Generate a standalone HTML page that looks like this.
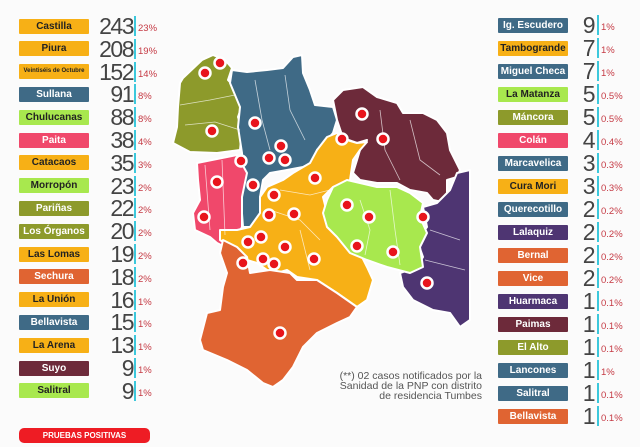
<!DOCTYPE html>
<html><head><meta charset="utf-8"><style>
body{margin:0;width:640px;height:447px;overflow:hidden;background:#fbfbfb;font-family:"Liberation Sans",sans-serif;position:relative}
.l{position:absolute;height:15px;line-height:15px;text-align:center;font-size:10px;color:#fff;border-radius:1px;font-weight:bold}
.n{position:absolute;width:60px;text-align:right;font-size:23px;line-height:24px;color:#444;letter-spacing:-1.5px}
.b{position:absolute;width:2px;height:20px;background:#3cc8dc}
.p{position:absolute;font-size:9.5px;color:#c53a44}
.O{background:#f7b016;color:#222}.B{background:#3f6a86}.G{background:#a8e84e;color:#222}.V{background:#8d9a2b}.K{background:#f0486b}.R{background:#e06432}.M{background:#6d2a3a}.P{background:#4e3572}
</style></head><body>
<svg width="640" height="447" style="position:absolute;left:0;top:0" >
<g stroke="#fff" stroke-width="2" stroke-linejoin="round">
<polygon fill="#8d9a2b" points="183,78 202,60 213,55 225,60 232,68 228,80 237,90 243,103 238,117 242,130 240,150 217,153 190,152 173,143 177,127 178,107 180,83"/>
<polygon fill="#3f6a86" points="232,70 247,72 267,70 283,68 293,57 302,55 303,73 310,90 315,105 333,107 337,120 333,133 327,140 317,150 317,160 303,167 287,170 270,173 263,180 260,197 260,217 253,227 243,227 240,187 243,173 242,153 238,127 240,107 230,83"/>
<polygon fill="#f0486b" points="197,163 237,155 247,173 242,197 242,227 235,240 225,247 217,243 210,237 195,230 193,213 200,200 198,180"/>
<polygon fill="#6d2a3a" points="333,100 343,90 363,87 377,97 397,103 403,113 423,113 437,120 447,133 450,150 460,170 457,177 447,180 447,203 433,200 427,193 410,190 397,183 377,183 360,180 353,173 357,160 360,150 367,140 357,143 343,138 337,120"/>
<polygon fill="#4e3572" points="457,173 470,170 470,320 460,327 450,313 433,310 413,300 403,287 400,273 417,267 423,257 417,240 427,227 423,207 437,203 450,190"/>
<polygon fill="#f7b016" points="327,137 337,133 347,140 357,143 367,142 360,150 353,160 350,180 333,187 323,197 327,213 343,233 357,247 367,267 373,280 367,300 357,307 337,293 317,280 297,277 287,270 277,273 267,270 257,263 247,260 237,257 230,247 220,240 220,230 237,230 250,227 260,213 260,197 267,187 283,180 293,173 310,163 317,150"/>
<polygon fill="#a8e84e" points="333,187 347,180 360,183 377,187 397,187 410,193 423,203 420,217 427,233 420,247 423,267 410,273 387,267 367,260 350,253 337,237 327,227 323,213 327,200"/>
<polygon fill="#e06432" points="223,240 237,247 247,257 250,273 270,270 290,273 297,280 317,280 337,293 357,307 350,317 337,323 317,333 303,347 293,367 283,380 273,387 263,383 247,370 227,360 203,350 200,340 207,313 220,310 223,287 227,273 220,253"/>
</g>
<g fill="none" stroke="#fff" stroke-width="0.8" opacity="0.7">
<path d="M180,105 L210,100 L235,95 M185,125 L215,122 L240,130 M255,80 L262,120 L270,150 M285,75 L290,110 L305,140 M205,165 L210,230 M222,160 L225,235 M280,190 L310,195 L330,190 M270,210 L300,220 L320,240 M300,230 L310,270 M360,200 L370,230 L365,255 M390,190 L395,230 L400,265 M380,110 L385,150 L400,180 M410,120 L420,160 L440,175 M430,230 L460,240 M425,260 L465,270"/>
</g>
<g fill="#e8141c" stroke="#fff" stroke-width="2.5">
<circle cx="220" cy="63" r="5.5"/><circle cx="205" cy="73" r="5.5"/><circle cx="212" cy="131" r="5.5"/><circle cx="255" cy="123" r="5.5"/><circle cx="281" cy="146" r="5.5"/><circle cx="269" cy="158" r="5.5"/><circle cx="285" cy="160" r="5.5"/><circle cx="241" cy="161" r="5.5"/><circle cx="217" cy="182" r="5.5"/><circle cx="253" cy="185" r="5.5"/><circle cx="274" cy="195" r="5.5"/><circle cx="315" cy="178" r="5.5"/><circle cx="342" cy="139" r="5.5"/><circle cx="362" cy="114" r="5.5"/><circle cx="383" cy="139" r="5.5"/><circle cx="347" cy="205" r="5.5"/><circle cx="369" cy="217" r="5.5"/><circle cx="423" cy="217" r="5.5"/><circle cx="294" cy="214" r="5.5"/><circle cx="269" cy="215" r="5.5"/><circle cx="204" cy="217" r="5.5"/><circle cx="261" cy="237" r="5.5"/><circle cx="248" cy="242" r="5.5"/><circle cx="285" cy="247" r="5.5"/><circle cx="357" cy="246" r="5.5"/><circle cx="393" cy="252" r="5.5"/><circle cx="263" cy="259" r="5.5"/><circle cx="274" cy="264" r="5.5"/><circle cx="243" cy="263" r="5.5"/><circle cx="314" cy="259" r="5.5"/><circle cx="427" cy="283" r="5.5"/><circle cx="280" cy="333" r="5.5"/>
</g>
<text font-family="Liberation Sans,sans-serif" font-size="10.5" fill="#555" text-anchor="end"><tspan x="482" y="379">(**) 02 casos notificados por la</tspan><tspan x="482" y="389">Sanidad de la PNP con distrito</tspan><tspan x="482" y="399">de residencia Tumbes</tspan></text>
</svg>
<div id="L"></div><div id="R"></div>
<div style="position:absolute;left:19px;top:428px;width:131px;height:15px;background:#ee1c24;border-radius:5px;color:#fff;font-size:8px;line-height:15px;text-align:center;font-weight:bold">PRUEBAS POSITIVAS</div>
<script>
var L=[["Castilla","O",243,"23%"],["Piura","O",208,"19%"],["Veintiséis de Octubre","O",152,"14%"],["Sullana","B",91,"8%"],["Chulucanas","G",88,"8%"],["Paita","K",38,"4%"],["Catacaos","O",35,"3%"],["Morropón","G",23,"2%"],["Pariñas","V",22,"2%"],["Los Órganos","V",20,"2%"],["Las Lomas","O",19,"2%"],["Sechura","R",18,"2%"],["La Unión","O",16,"1%"],["Bellavista","B",15,"1%"],["La Arena","O",13,"1%"],["Suyo","M",9,"1%"],["Salitral","G",9,"1%"]];
var R=[["Ig. Escudero","B",9,"1%"],["Tambogrande","O",7,"1%"],["Miguel Checa","B",7,"1%"],["La Matanza","G",5,"0.5%"],["Máncora","V",5,"0.5%"],["Colán","K",4,"0.4%"],["Marcavelica","B",3,"0.3%"],["Cura Mori","O",3,"0.3%"],["Querecotillo","B",2,"0.2%"],["Lalaquiz","P",2,"0.2%"],["Bernal","R",2,"0.2%"],["Vice","R",2,"0.2%"],["Huarmaca","P",1,"0.1%"],["Paimas","M",1,"0.1%"],["El Alto","V",1,"0.1%"],["Lancones","B",1,"1%"],["Salitral","B",1,"0.1%"],["Bellavista","R",1,"0.1%"]];
var h="";
function row(d,y,lx,nx,bx){h+='<div class="l '+d[1]+'" style="left:'+lx+'px;top:'+(y-7.5)+'px;width:70px;'+(d[0].length>14?'font-size:6px':'')+'">'+d[0]+'</div>';
h+='<div class="n" style="left:'+(nx-60)+'px;top:'+(y-12)+'px">'+d[2]+'</div>';
h+='<div class="b" style="left:'+bx+'px;top:'+(y-10)+'px"></div>';
h+='<div class="p" style="left:'+(bx+4)+'px;top:'+(y-3)+'px">'+d[3]+'</div>';}
L.forEach(function(d,i){row(d,26+22.8*i,19,133,134)});
R.forEach(function(d,i){row(d,25+23*i,498,594,597)});
document.getElementById("L").innerHTML=h;
</script>
</body></html>
